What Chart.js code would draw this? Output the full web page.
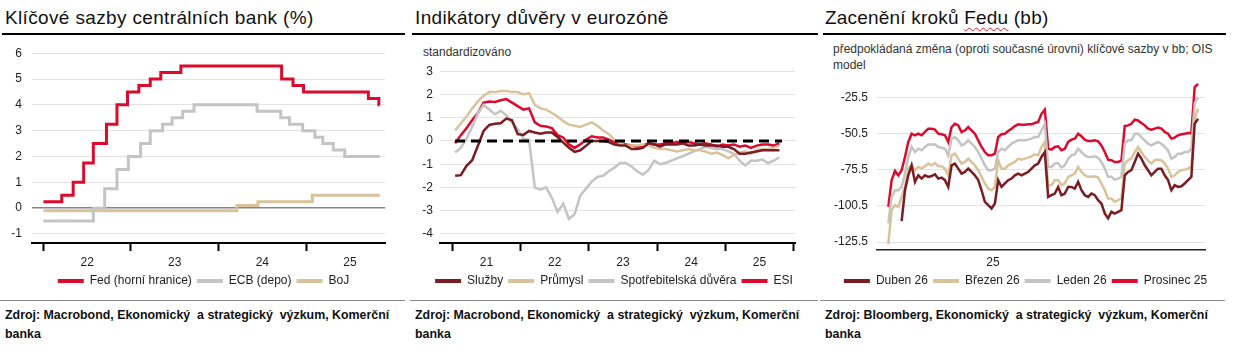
<!DOCTYPE html>
<html>
<head>
<meta charset="utf-8">
<script src="https://cdn.jsdelivr.net/npm/chart.js@4.4.1/dist/chart.umd.min.js"></script>
<style>
body{margin:0;background:#fff;font-family:"Liberation Sans",Arial,sans-serif;color:#111;}
#page{position:relative;width:1233px;height:360px;overflow:hidden;}
.title{position:absolute;top:7px;font-size:19px;letter-spacing:0.35px;white-space:nowrap;color:#111;}
.rule{position:absolute;top:33px;height:2px;background:#000;}
.sub{position:absolute;font-size:12px;color:#333;line-height:16px;}
.sep{position:absolute;top:300px;height:1px;background:#8c8c8c;}
.src{position:absolute;top:306px;font-size:12.4px;font-weight:bold;line-height:19px;color:#111;}
canvas{position:absolute;}
.spell{text-decoration:underline wavy #e0162b;text-decoration-thickness:1px;text-underline-offset:3px;}
</style>
</head>
<body>
<div id="page">
  <div class="title" style="left:5px">Klíčové sazby centrálních bank (%)</div>
  <div class="rule" style="left:2px;width:403px"></div>
  <canvas id="rates" width="407" height="261" style="left:0;top:36px"></canvas>
  <div class="sep" style="left:0;width:405px"></div>
  <div class="src" style="left:5px;width:398px">Zdroj: Macrobond, Ekonomický&nbsp; a strategický&nbsp; výzkum, Komerční banka</div>

  <div class="title" style="left:415px">Indikátory důvěry v eurozóně</div>
  <div class="rule" style="left:412px;width:406px"></div>
  <div class="sub" style="left:423px;top:44px">standardizováno</div>
  <canvas id="confidence" width="408" height="240" style="left:410px;top:57px"></canvas>
  <div class="sep" style="left:410px;width:408px"></div>
  <div class="src" style="left:415px;width:398px">Zdroj: Macrobond, Ekonomický&nbsp; a strategický&nbsp; výzkum, Komerční banka</div>

  <div class="title" style="left:825px;font-size:19px;letter-spacing:0.2px">Zacenění kroků <span class="spell">Fedu</span> (bb)</div>
  <div class="rule" style="left:823px;width:403px"></div>
  <div class="sub" style="left:833px;top:41px;width:385px">předpokládaná změna (oproti současné úrovni) klíčové sazby v bb; OIS model</div>
  <canvas id="repricing" width="411" height="232" style="left:820px;top:65px"></canvas>
  <div class="sep" style="left:820px;width:405px"></div>
  <div class="src" style="left:825px;width:398px">Zdroj: Bloomberg, Ekonomický&nbsp; a strategický&nbsp; výzkum, Komerční banka</div>
</div>

<script>
// ---- key central bank rates: decimal year where the rate changes ----
var fedDates = [2022.0, 2022.21, 2022.34, 2022.46, 2022.57, 2022.72, 2022.84, 2022.96, 2023.09, 2023.22, 2023.34, 2023.57, 2024.72, 2024.85, 2024.97, 2025.71, 2025.83, 2025.84];
var fedRates = [0.25, 0.5, 1.0, 1.75, 2.5, 3.25, 4.0, 4.5, 4.75, 5.0, 5.25, 5.5, 5.0, 4.75, 4.5, 4.25, 4.0, 4.0];
var ecbDates = [2022.0, 2022.57, 2022.70, 2022.84, 2022.97, 2023.11, 2023.22, 2023.36, 2023.47, 2023.59, 2023.72, 2024.44, 2024.71, 2024.81, 2024.96, 2025.10, 2025.19, 2025.31, 2025.44, 2025.84];
var ecbRates = [-0.5, 0.0, 0.75, 1.5, 2.0, 2.5, 3.0, 3.25, 3.5, 3.75, 4.0, 3.75, 3.5, 3.25, 3.0, 2.75, 2.5, 2.25, 2.0, 2.0];
var bojDates = [2022.0, 2024.21, 2024.45, 2025.07, 2025.84];
var bojRates = [-0.1, 0.1, 0.25, 0.5, 0.5];
var rateTicks = [-1, 0, 1, 2, 3, 4, 5, 6];
var rateYears = [2022, 2023, 2024, 2025];
var rateYearLabels = ['22', '23', '24', '25'];

// ---- euro area confidence, monthly from Jan 2021 ----
var sluzby = [-1.5,-1.47,-1.07,-0.83,-0.21,0.43,0.69,0.74,0.76,0.96, 0.89,0.29,0.26,0.43,0.36,0.31,0.36,0.36,0.17,-0.07,
  -0.29,-0.47,-0.4,-0.21,0.0,0.0,0.0,-0.05,-0.15,-0.2, -0.2,-0.35,-0.35,-0.3,-0.1,-0.15,-0.25,-0.15,-0.15,-0.15,
  -0.1,-0.2,-0.2,-0.15,-0.2,-0.2,-0.2,-0.25,-0.25,-0.35, -0.55,-0.55,-0.5,-0.45,-0.4,-0.4,-0.4,-0.4];
var prumysl = [0.45,0.75,1.05,1.4,1.7,1.95,2.1,2.1,2.15,2.15, 2.1,2.1,2.0,2.05,1.55,1.4,1.35,1.2,1.05,0.85,
  0.7,0.65,0.6,0.7,0.8,0.65,0.45,0.3,0.05,-0.1, -0.2,-0.2,-0.2,-0.15,-0.2,-0.3,-0.35,-0.35,-0.4,-0.45,
  -0.4,-0.35,-0.4,-0.4,-0.45,-0.55,-0.5,-0.6,-0.75,-0.6, -0.5,-0.45,-0.55,-0.4,-0.35,-0.35,-0.3,-0.2];
var spotrebitele = [-0.5,-0.3,0.1,0.6,1.2,1.55,1.35,1.15,1.3,1.1, 0.8,0.5,0.1,0.05,-2.0,-2.1,-2.0,-2.45,-3.05,-2.7,
  -3.35,-3.15,-2.35,-2.05,-1.75,-1.55,-1.5,-1.3,-1.15,-0.95, -0.95,-1.1,-1.3,-1.45,-1.25,-0.85,-1.0,-0.95,-0.85,-0.75,
  -0.65,-0.55,-0.45,-0.35,-0.25,-0.3,-0.35,-0.35,-0.45,-0.55, -0.85,-1.05,-0.85,-0.85,-0.8,-0.95,-0.85,-0.7];
var esi = [-0.1,0.25,0.55,0.9,1.2,1.65,1.7,1.68,1.75,1.8, 1.65,1.5,1.35,1.4,0.8,0.65,0.62,0.55,0.25,0.15,
  -0.15,-0.3,-0.15,0.05,0.2,0.15,0.15,0.05,-0.05,-0.1, -0.15,-0.2,-0.25,-0.2,-0.1,-0.15,-0.15,-0.1,-0.1,-0.05,
  -0.1,-0.05,-0.1,-0.15,-0.1,-0.15,-0.25,-0.15,-0.2,-0.15, -0.25,-0.2,-0.3,-0.2,-0.15,-0.15,-0.2,-0.1];
var zeroLineX = [2021.04, 2025.83];
var zeroLineY = [0, 0];
var confTicks = [-4, -3, -2, -1, 0, 1, 2, 3];
var confYears = [2021, 2022, 2023, 2024, 2025, 2026];
var confYearLabels = ['21', '22', '23', '24', '25'];

// ---- Fed repricing (bp), sampled observations ----
var duben26 = [null,null,null,null,-111,-89.6,-79.2,-72.3,-83.8,-79.2,
  -81.5,-79.2,-80.3,-79.7,-78.5,-81.5,-80.8,-82.6,-87.3,-72.3,
  -71.1,-74.6,-78.0,-76.9,-74.6,-76.9,-79.2,-82.6,-89.6,-97.6,
  -99.9,-102.2,-98.8,-82.6,-87.3,-84.9,-82.6,-81.5,-79.2,-78.0,
  -79.2,-78.0,-76.9,-74.6,-72.3,-71.1,-66.5,-63.1,-94.2,-93.0,
  -91.9,-87.3,-93.0,-91.9,-87.3,-87.3,-88.4,-83.8,-89.6,-93.0,
  -94.2,-91.9,-93.0,-96.5,-98.8,-105.7,-109.1,-104.5,-105.7,-104.5,
  -103.4,-79.2,-76.9,-75.7,-70.0,-64.2,-67.7,-72.3,-75.7,-79.2,
  -76.9,-74.6,-74.6,-79.2,-82.6,-89.6,-86.1,-87.3,-86.8,-84.9,
  -82.6,-80.3,-43.5,-40.0];
var brezen26 = [-127,-103.4,-99.9,-101.1,-94.2,-87.3,-74.6,-72.3,-75.7,-73.4,
  -74.6,-72.9,-71.1,-72.3,-70.7,-72.9,-72.9,-74.6,-79.2,-65.4,
  -64.2,-67.7,-71.1,-70.0,-67.7,-70.0,-72.3,-75.7,-80.3,-84.9,
  -88.4,-89.6,-87.3,-68.8,-74.6,-74.6,-72.3,-71.1,-70.0,-67.7,
  -68.4,-67.7,-67.0,-66.1,-64.7,-65.4,-59.6,-56.1,-86.1,-86.1,
  -82.6,-82.6,-86.1,-84.9,-80.3,-79.2,-78.0,-73.4,-76.9,-79.2,
  -80.3,-80.3,-79.9,-80.8,-84.9,-89.6,-95.3,-95.3,-97.6,-96.5,
  -95.3,-71.1,-68.8,-67.7,-63.1,-59.6,-63.1,-66.5,-68.8,-71.1,
  -68.8,-68.4,-68.8,-71.1,-74.6,-80.3,-79.2,-76.9,-75.7,-75.3,
  -74.6,-73.4,-40.0,-33.1];
var leden26 = [-112.6,-94.2,-89.6,-89.6,-87.3,-78.0,-66.5,-59.6,-63.1,-60.8,
  -61.9,-59.6,-57.8,-57.8,-57.8,-59.6,-60.1,-60.8,-65.4,-53.8,
  -52.7,-55.0,-58.5,-57.3,-55.0,-57.3,-59.6,-63.1,-67.7,-72.3,
  -75.7,-75.7,-74.6,-63.1,-60.8,-61.9,-59.6,-57.3,-56.1,-55.0,
  -55.0,-55.0,-54.5,-53.8,-52.7,-52.7,-48.1,-43.5,-73.4,-73.4,
  -71.1,-70.7,-73.9,-72.3,-67.7,-65.4,-64.7,-60.8,-63.1,-65.4,
  -66.5,-66.5,-66.1,-67.0,-70.0,-74.6,-80.3,-80.3,-82.2,-81.5,
  -80.3,-57.3,-55.0,-55.0,-50.4,-50.4,-52.7,-55.0,-57.3,-58.5,
  -57.3,-56.1,-57.3,-59.6,-61.9,-67.7,-66.5,-64.2,-64.2,-63.1,
  -63.1,-60.8,-29.6,-25.0];
var prosinec25 = [-101.1,-82.6,-76.2,-79.2,-75.7,-66.5,-56.1,-50.4,-51.5,-50.4,
  -51.5,-49.2,-46.9,-46.9,-47.6,-50.4,-50.8,-51.5,-56.1,-45.8,
  -43.5,-44.6,-49.2,-48.1,-45.8,-48.1,-50.4,-55.0,-59.6,-63.1,
  -65.4,-65.4,-64.2,-52.7,-50.8,-50.4,-48.5,-46.9,-45.1,-43.9,
  -44.2,-44.2,-43.9,-43.9,-43.0,-42.3,-36.6,-33.8,-60.8,-61.4,
  -59.6,-59.1,-61.9,-60.8,-56.1,-54.5,-53.8,-50.4,-52.2,-54.5,
  -55.5,-55.5,-55.0,-55.7,-58.5,-63.1,-68.4,-68.8,-70.0,-70.0,
  -69.0,-45.1,-44.6,-43.5,-40.7,-41.2,-43.0,-44.6,-46.9,-47.6,
  -46.9,-46.2,-46.9,-49.2,-50.4,-53.8,-53.1,-51.5,-50.8,-50.4,
  -49.9,-50.0,-18.1,-15.8];
var repricingTicks = [-125.5, -100.5, -75.5, -50.5, -25.5];
var repricingLabelPos = [31.4];
var repricingLabels = ['25'];

var RED = '#dc0a2d', DARKRED = '#7a1c22', GRAY = '#c4c4c4', TAN = '#d9c39a';

Chart.defaults.font.family = '"Liberation Sans", Arial, sans-serif';
Chart.defaults.color = '#222';

function toPoints(xs, ys){
  var list = [];
  for (var i = 0; i < ys.length; i++) {
    list.push({x: xs[i], y: ys[i]});
  }
  return list;
}

function indexX(n, start, step){
  var xs = [];
  for (var i = 0; i < n; i++) xs.push(start + i * step);
  return xs;
}

function lineSet(label, color, data, width, stepped){
  return {
    label: label, data: data,
    borderColor: color, backgroundColor: color,
    borderWidth: width, pointRadius: 0, tension: 0,
    stepped: stepped || false, fill: false
  };
}

function valueAxis(min, max, ticks, width, pad, zeroColor){
  return {
    type: 'linear', min: min, max: max,
    afterBuildTicks: function(scale){
      scale.ticks = ticks.map(function(v){ return {value: v}; });
    },
    ticks: {padding: pad, font: {size: 12}, color: '#222', callback: function(v){ return String(v); }},
    grid: {
      drawTicks: false, lineWidth: function(ctx){ return (zeroColor && ctx.tick && ctx.tick.value === 0) ? 1.5 : 1; },
      color: function(ctx){ return (zeroColor && ctx.tick && ctx.tick.value === 0) ? zeroColor : '#e3e3e3'; }
    },
    border: {display: false},
    afterFit: function(scale){ scale.width = width; }
  };
}

// empty right axis, only keeps the legend centred like the original
function spacerAxis(width){
  return {
    type: 'linear', position: 'right', display: true,
    grid: {display: false, drawTicks: false}, border: {display: false}, ticks: {display: false},
    afterFit: function(scale){ scale.width = width; }
  };
}

// tick marks on year boundaries, labels in the middle of each year
function yearAxis(min, max, years, labels){
  return {
    type: 'linear', min: min, max: max,
    afterBuildTicks: function(scale){
      var t = [];
      for (var i = 0; i < years.length; i++) t.push({value: years[i]});
      for (var j = 0; j < labels.length; j++) t.push({value: years[j] + 0.5});
      t.sort(function(a, b){ return a.value - b.value; });
      scale.ticks = t;
    },
    ticks: {
      autoSkip: false, maxRotation: 0, padding: 4, font: {size: 12}, color: '#222',
      callback: function(v){
        var k = years.indexOf(v - 0.5);
        return (k >= 0 && k < labels.length) ? labels[k] : '';
      }
    },
    grid: {
      drawOnChartArea: false, drawTicks: true, tickLength: 8, tickWidth: 2,
      tickColor: function(ctx){ return (ctx.tick && years.indexOf(ctx.tick.value) >= 0) ? '#000' : 'rgba(0,0,0,0)'; }
    },
    border: {display: true, color: '#000', width: 2},
    afterFit: function(scale){ scale.height = 27; }
  };
}

function legendOpts(){
  return {
    position: 'bottom',
    labels: {
      boxWidth: 26, boxHeight: 4, padding: 5, font: {size: 12}, color: '#222',
      generateLabels: function(chart){
        var items = Chart.defaults.plugins.legend.labels.generateLabels(chart);
        return items.filter(function(it){
          return !chart.data.datasets[it.datasetIndex].hideInLegend;
        }).map(function(it){ it.lineWidth = 0; return it; });
      }
    }
  };
}

function makeChart(id, datasets, xAxis, yAxis, rightWidth){
  return new Chart(document.getElementById(id), {
    type: 'line',
    data: {datasets: datasets},
    options: {
      responsive: false, animation: false, devicePixelRatio: 1,
      layout: {padding: {top: 4, right: 0, bottom: 0, left: 0}},
      plugins: {legend: legendOpts(), tooltip: {enabled: false}},
      scales: {x: xAxis, y: yAxis, yr: spacerAxis(rightWidth)}
    }
  });
}

// chart 1 - central bank rates
makeChart('rates', [
  lineSet('Fed (horní hranice)', RED, toPoints(fedDates, fedRates), 3, true),
  lineSet('ECB (depo)', GRAY, toPoints(ecbDates, ecbRates), 3, true),
  lineSet('BoJ', TAN, toPoints(bojDates, bojRates), 3, true)
], yearAxis(2021.87, 2025.9, rateYears, rateYearLabels),
   valueAxis(-1.35, 6, rateTicks, 32, 10, '#858585'), 22);

// chart 2 - confidence indicators
var confX = indexX(esi.length, 2021 + 0.5 / 12, 1 / 12);
var zeroLine = lineSet('0', '#000', toPoints(zeroLineX, zeroLineY), 3);
zeroLine.borderDash = [10, 6];
zeroLine.order = -1;
zeroLine.hideInLegend = true;
makeChart('confidence', [
  lineSet('Služby', DARKRED, toPoints(confX, sluzby), 2.5),
  lineSet('Průmysl', TAN, toPoints(confX, prumysl), 2.5),
  lineSet('Spotřebitelská důvěra', GRAY, toPoints(confX, spotrebitele), 2.5),
  lineSet('ESI', RED, toPoints(confX, esi), 2.5),
  zeroLine
], yearAxis(2020.82, 2026.02, confYears, confYearLabels),
   valueAxis(-4.39, 3, confTicks, 30, 7, null), 23);

// chart 3 - Fed repricing
var repX = indexX(prosinec25.length, 0, 1);
var repAxisX = {
  type: 'linear', min: -3.4, max: 95.1,
  afterBuildTicks: function(scale){
    scale.ticks = repricingLabelPos.map(function(v){ return {value: v}; });
  },
  ticks: {
    autoSkip: false, maxRotation: 0, padding: 5, font: {size: 12}, color: '#222',
    callback: function(v, i){ return repricingLabels[i]; }
  },
  grid: {display: false, drawTicks: false},
  border: {display: true, color: '#222', width: 1.5},
  afterFit: function(scale){ scale.height = 20; }
};
makeChart('repricing', [
  lineSet('Duben 26', DARKRED, toPoints(repX, duben26), 2.5),
  lineSet('Březen 26', TAN, toPoints(repX, brezen26), 2.5),
  lineSet('Leden 26', GRAY, toPoints(repX, leden26), 2.5),
  lineSet('Prosinec 25', RED, toPoints(repX, prosinec25), 2.5)
], repAxisX,
   valueAxis(-131, -14, repricingTicks, 57, 9, null), 26);
</script>
</body>
</html>
